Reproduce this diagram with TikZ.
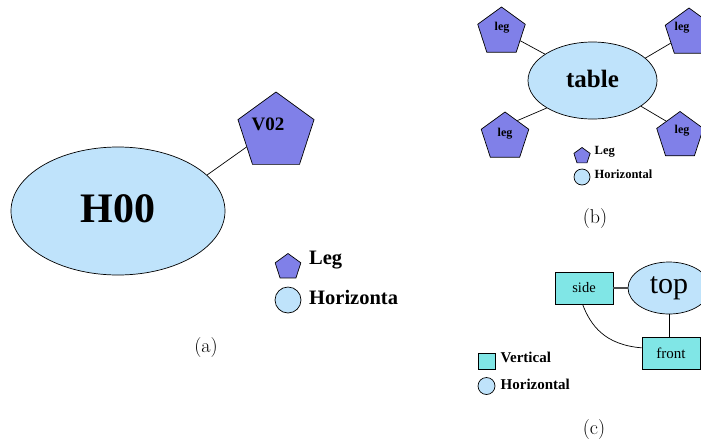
\documentclass[tikz,border=0pt]{standalone}
\usepackage{fontspec}
\newfontfamily\tms{Liberation Serif}
\usetikzlibrary{shapes.geometric}
\definecolor{horiz}{HTML}{BFE3FB}
\definecolor{legc}{HTML}{8080E8}
\definecolor{vert}{HTML}{80E6E6}
\tikzset{
  base/.style={draw=black, line width=0.7pt, inner sep=0pt, font=\tms},
  hnode/.style={base, ellipse, fill=horiz},
  legnode/.style={base, regular polygon, regular polygon sides=5, fill=legc},
  vnode/.style={base, rectangle, fill=vert},
  lbl/.style={inner sep=0pt, font=\tms\bfseries},
  keytext/.style={inner sep=0pt, anchor=west, font=\tms\bfseries},
  edge/.style={draw=black, line width=0.7pt},
  caption/.style={inner sep=0pt, font=\fontsize{20}{20}\selectfont}
}
\begin{document}
\begin{tikzpicture}[x=1pt, y=-1pt]
\useasboundingbox (0,0) rectangle (701,445);
\clip (0,0) rectangle (701,445);

% ---------- (a) ----------
\node[hnode, minimum width=214pt, minimum height=128pt] (h00) at (118,211) {};
\node[lbl, font=\tms\bfseries\fontsize{42}{42}\selectfont] (h00t) at (118,209) {H00};
\node[legnode, minimum size=80pt] (v02) at (276,132) {};
\node[lbl, font=\tms\bfseries\fontsize{19}{19}\selectfont] (v02t) at (268,124) {V02};
\draw[edge] (h00.22) -- (v02.207);

\node[legnode, minimum size=27pt] (ka1) at (288,267) {};
\node[keytext, font=\tms\bfseries\fontsize{20.5}{20.5}\selectfont] (ka1t) at (309,260) {Leg};
\node[hnode, circle, minimum size=26pt] (ka2) at (288,300) {};
\node[keytext, font=\tms\bfseries\fontsize{20.5}{20.5}\selectfont] (ka2t) at (309,297) {Horizonta};
\node[caption] (capa) at (206,348) {(a)};

% ---------- (b) ----------
\node[hnode, minimum width=129pt, minimum height=77pt] (tbl) at (592.5,80.5) {};
\node[lbl, font=\tms\bfseries\fontsize{25}{25}\selectfont] (tblt) at (592.5,79) {table};

\node[legnode, minimum size=50pt] (l1) at (501.5,32) {};
\node[lbl, font=\tms\bfseries\fontsize{12}{12}\selectfont] (l1t) at (502,28) {leg};
\node[legnode, minimum size=50pt] (l2) at (689,33) {};
\node[lbl, font=\tms\bfseries\fontsize{12}{12}\selectfont] (l2t) at (682,28) {leg};
\node[legnode, minimum size=50pt] (l3) at (505,137) {};
\node[lbl, font=\tms\bfseries\fontsize{12}{12}\selectfont] (l3t) at (505,134) {leg};
\node[legnode, minimum size=49pt] (l4) at (680,136) {};
\node[lbl, font=\tms\bfseries\fontsize{12}{12}\selectfont] (l4t) at (682,131) {leg};

\draw[edge] (tbl.151) -- (l1.-25);
\draw[edge] (tbl.23) -- (l2.209);
\draw[edge] (tbl.211) -- (l3.53);
\draw[edge] (tbl.-28) -- (l4.133);

\node[legnode, minimum size=17pt] (kb1) at (582,156) {};
\node[keytext, font=\tms\bfseries\fontsize{12.5}{12.5}\selectfont] (kb1t) at (594.5,152) {Leg};
\node[hnode, circle, minimum size=16pt] (kb2) at (582,177) {};
\node[keytext, font=\tms\bfseries\fontsize{12.5}{12.5}\selectfont] (kb2t) at (594.5,174) {Horizontal};
\node[caption] (capb) at (595,219) {(b)};

% ---------- (c) ----------
\node[vnode, minimum width=58pt, minimum height=32pt, font=\tms\fontsize{14.5}{14.5}\selectfont] (side) at (584,288) {side};
\node[hnode, minimum width=82pt, minimum height=52pt, font=\tms\fontsize{30}{30}\selectfont] (top) at (669,288) {top};
\node[vnode, minimum width=58pt, minimum height=32pt, font=\tms\fontsize{15}{15}\selectfont] (front) at (671,353) {front};

\draw[draw=black!70, line width=1.3pt] (side.east) -- (top.west);
\draw[edge] (top.south) -- (top.south |- front.north);
\draw[edge] (side.-95) .. controls +(8,21) and +(-37,-3) .. (front.170);

\node[vnode, minimum width=17pt, minimum height=16pt] (kc1) at (486.5,361) {};
\node[keytext, font=\tms\bfseries\fontsize{15}{15}\selectfont] (kc1t) at (500.5,357) {Vertical};
\node[hnode, circle, minimum size=17pt] (kc2) at (486.5,386) {};
\node[keytext, font=\tms\bfseries\fontsize{15}{15}\selectfont] (kc2t) at (500.5,384) {Horizontal};
\node[caption] (capc) at (594,430) {(c)};
\end{tikzpicture}
\end{document}
